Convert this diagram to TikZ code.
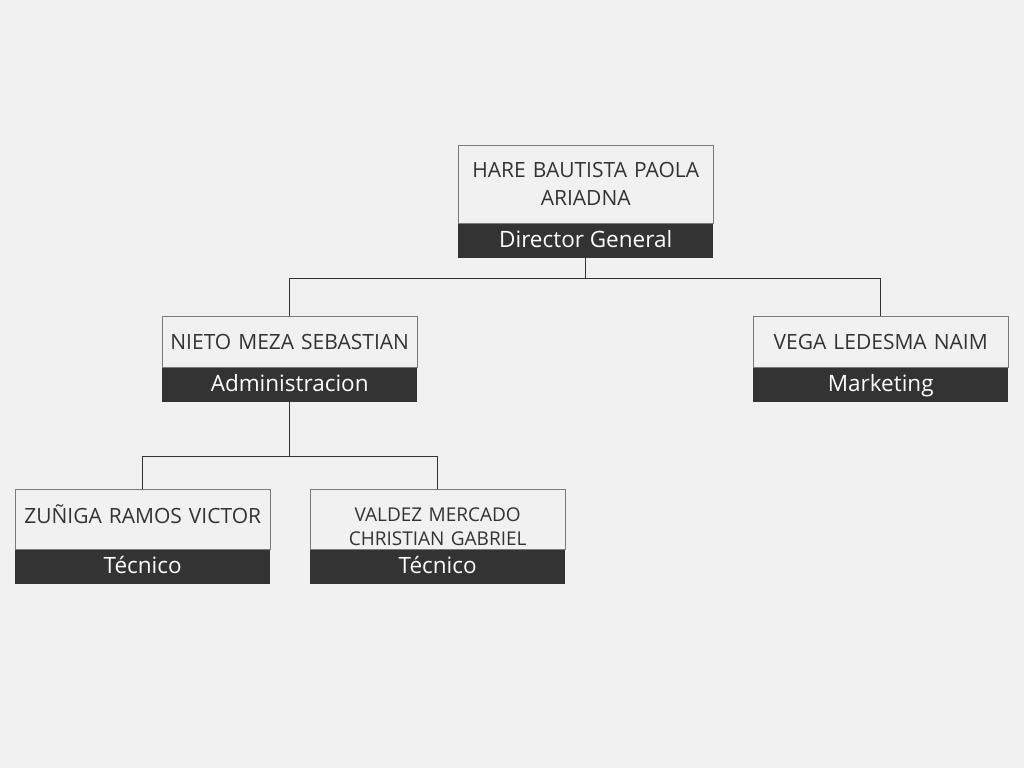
\documentclass[tikz,border=0pt]{standalone}
\usepackage{fontspec}
\setmainfont{Open Sans}
\usetikzlibrary{positioning}
\definecolor{bg}{HTML}{F1F1F1}
\definecolor{band}{HTML}{333333}
\definecolor{frame}{HTML}{7A7A7A}
\tikzset{
    % box holding the person's name
    namebox/.style={
           rectangle,
           draw=frame, fill=bg,
           minimum width=255pt,
           text width=250pt,
           align=center,
           inner sep=0pt,
           anchor=north west,
           text=band,
           font=\fontsize{21}{28}\selectfont},
    % dark band holding the post
    roleband/.style={
           rectangle,
           fill=band,
           minimum width=255pt,
           minimum height=34pt,
           inner sep=0pt,
           text height=16pt,
           text depth=2.5pt,
           text=white,
           font=\fontsize{22.5}{24}\selectfont},
    % connecting lines
    link/.style={draw=band, line width=0.9pt}
}
\begin{document}
\begin{tikzpicture}[x=1pt,y=-1pt]
\useasboundingbox[fill=bg] (0,0) rectangle (1024,768);
 %nodes
\node[namebox, minimum height=78pt] (paola) at (458,145) {HARE BAUTISTA PAOLA\\ARIADNA};
\node[roleband, below=0pt of paola] (paolarole) {Director General};
\node[namebox, minimum height=51pt] (nieto) at (162,316) {NIETO MEZA SEBASTIAN};
\node[roleband, below=0pt of nieto] (nietorole) {Administracion};
\node[namebox, minimum height=51pt] (vega) at (753,316) {VEGA LEDESMA NAIM};
\node[roleband, below=0pt of vega] (vegarole) {Marketing};
\node[namebox, minimum height=60pt, text depth=10pt] (zuniga) at (15,489) {ZUÑIGA RAMOS VICTOR};
\node[roleband, below=0pt of zuniga] (zunigarole) {Técnico};
\node[namebox, minimum height=60pt, text height=28pt, font=\fontsize{19}{24}\selectfont] (valdez) at (310,489) {VALDEZ MERCADO\\CHRISTIAN GABRIEL};
\node[roleband, below=0pt of valdez] (valdezrole) {Técnico};

 %lines
\draw[link] (paolarole.south) -- ++(0,21) coordinate (j1) -| (nieto.north);
\draw[link] (j1) -| (vega.north);
\draw[link] (nietorole.south) -- ++(0,55) coordinate (j2) -| (zuniga.north);
\draw[link] (j2) -| (valdez.north);
\end{tikzpicture}
\end{document}
